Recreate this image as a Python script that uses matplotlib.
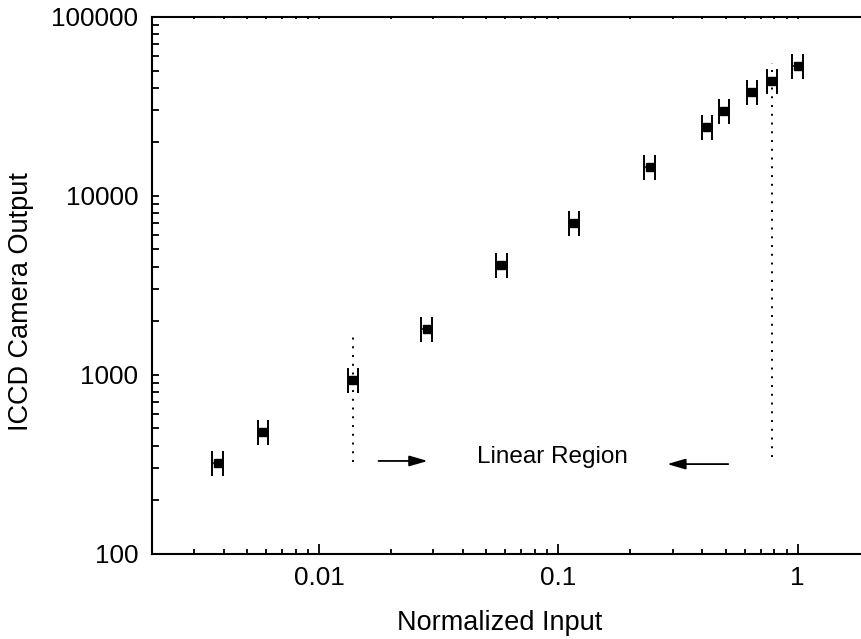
import numpy as np
import matplotlib
matplotlib.use('Agg')
import matplotlib.pyplot as plt
from matplotlib.ticker import LogLocator, NullFormatter, FixedLocator, FixedFormatter

plt.rcParams['font.family'] = ['Liberation Sans', 'DejaVu Sans']

# measured points
norm_input = [0.00376, 0.00582, 0.0139, 0.0281, 0.0578, 0.1166, 0.2405,
              0.418, 0.494, 0.646, 0.783, 1.0]
camera_out = [321, 479, 928, 1803, 4105, 6994, 14490,
              24040, 29770, 37730, 43790, 52900]
x_err_frac = 0.05

# linear region markers
lin_lo = 0.0139
lin_hi = 0.783
lin_lo_y = (326, 1641)
lin_hi_y = (346, 55000)

x = np.array(norm_input)
y = np.array(camera_out)

fig = plt.figure(figsize=(8.62, 6.39), dpi=100)
ax = fig.add_axes([152 / 862, 85.5 / 639, 717.6 / 862, 536.8 / 639])

ax.errorbar(x, y, xerr=x * x_err_frac, fmt='s', color='black', ms=6,
            ecolor='black', elinewidth=1.1, capsize=9, capthick=1.4)

ax.plot([lin_lo, lin_lo], lin_lo_y, color='black', lw=1.4, ls=(0, (1, 3.5)))
ax.plot([lin_hi, lin_hi], lin_hi_y, color='black', lw=1.4, ls=(0, (1, 3.5)))

arrow = dict(arrowstyle='-|>,head_length=1.1,head_width=0.32', color='black',
             lw=1.3, shrinkA=0, shrinkB=0)
ax.annotate('', xy=(0.0284, 329), xytext=(0.0177, 329), arrowprops=arrow)
ax.annotate('', xy=(0.285, 316), xytext=(0.513, 316), arrowprops=arrow)
ax.text(0.0942, 346, 'Linear Region', fontsize=17.5, ha='center', va='center')

ax.set_xscale('log')
ax.set_yscale('log')
ax.set_xlim(0.002, 2)
ax.set_ylim(100, 100000)

ax.xaxis.set_major_locator(FixedLocator([0.01, 0.1, 1]))
ax.xaxis.set_major_formatter(FixedFormatter(['0.01', '0.1', '1']))
ax.xaxis.set_minor_locator(LogLocator(base=10, subs=np.arange(2, 10)))
ax.xaxis.set_minor_formatter(NullFormatter())
ax.yaxis.set_major_locator(FixedLocator([100, 1000, 10000, 100000]))
ax.yaxis.set_major_formatter(FixedFormatter(['100', '1000', '10000', '100000']))
ax.yaxis.set_minor_locator(LogLocator(base=10, subs=np.arange(2, 10)))
ax.yaxis.set_minor_formatter(NullFormatter())

for s in ax.spines.values():
    s.set_linewidth(1.5)
ax.spines['right'].set_visible(False)

ax.tick_params(axis='x', which='major', direction='in', length=7.5, width=1.3,
               top=True, labelsize=18.8, pad=9)
ax.tick_params(axis='x', which='minor', direction='in', length=3.8, width=1.3, top=True)
ax.tick_params(axis='y', which='both', direction='in', length=5, width=1.3,
               labelsize=18.8, pad=10)
# tiny ticks on the top axis
for t in ax.xaxis.get_major_ticks() + ax.xaxis.get_minor_ticks():
    t.tick2line.set_markersize(1.5)

ax.set_xlabel('Normalized Input', fontsize=19.5)
ax.set_ylabel('ICCD Camera Output', fontsize=19.5)
ax.xaxis.set_label_coords(0.485, -0.106)
ax.yaxis.set_label_coords(-0.165, 0.4685)

fig.savefig('out.png', dpi=100)
